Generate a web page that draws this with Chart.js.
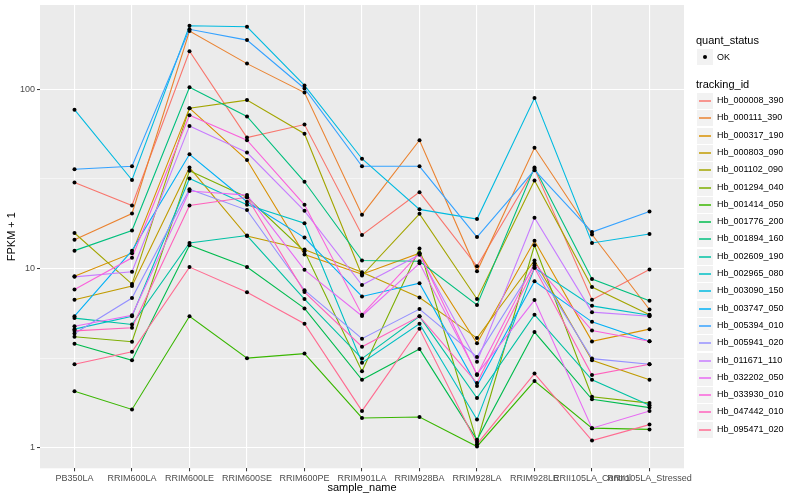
<!DOCTYPE html>
<html>
<head>
<meta charset="utf-8">
<script src="https://cdn.jsdelivr.net/npm/chart.js@4.4.1/dist/chart.umd.min.js"></script>
<style>
body { margin: 0; background: #fff; font-family: "Liberation Sans", Arial, sans-serif; }
#wrap { position: relative; width: 800px; height: 500px; }
#legend { position: absolute; left: 0; top: 0; width: 800px; height: 500px; pointer-events: none; }
.ttl { position: absolute; left: 696px; font-size: 11px; line-height: 13px; color: #000; }
.key { position: absolute; left: 697px; width: 16px; height: 16px; background: #F2F2F2; }
.lab { position: absolute; left: 717px; font-size: 9px; line-height: 11px; color: #000; white-space: nowrap; }
</style>
</head>
<body>
<div id="wrap">
  <canvas id="chart" width="800" height="500"></canvas>
  <div id="legend"></div>
</div>
<script>
// x categories
const categories = ['PB350LA', 'RRIM600LA', 'RRIM600LE', 'RRIM600SE', 'RRIM600PE', 'RRIM901LA',
    'RRIM928BA', 'RRIM928LA', 'RRIM928LE', 'RRII105LA_Control', 'RRII105LA_Stressed'];

const trackingIds = ['Hb_000008_390', 'Hb_000111_390', 'Hb_000317_190', 'Hb_000803_090', 'Hb_001102_090',
    'Hb_001294_040', 'Hb_001414_050', 'Hb_001776_200', 'Hb_001894_160', 'Hb_002609_190',
    'Hb_002965_080', 'Hb_003090_150', 'Hb_003747_050', 'Hb_005394_010', 'Hb_005941_020',
    'Hb_011671_110', 'Hb_032202_050', 'Hb_033930_010', 'Hb_047442_010', 'Hb_095471_020'];

// FPKM + 1 per sample
const hb000008 = [30.2, 22.5, 163, 53.8, 63.6, 15.4, 26.7, 10.3, 36.0, 6.7, 9.9];
const hb000111 = [14.5, 20.3, 211, 139, 95.8, 20.0, 52.0, 9.66, 47.2, 15.5, 5.92];
const hb000317 = [9.06, 12.2, 78.5, 40.3, 12.0, 9.3, 12.2, 3.84, 14.3, 3.93, 4.6];
const hb000803 = [6.7, 8.0, 36.6, 15.2, 12.8, 9.55, 6.9, 4.1, 11.1, 3.08, 2.4];
const hb001102 = [15.8, 8.2, 78.5, 87, 56.5, 9.15, 20.2, 6.77, 31.0, 7.9, 5.54];
const hb001294 = [4.17, 3.91, 35.1, 25.0, 12.5, 2.68, 12.93, 1.08, 13.5, 1.93, 1.78];
const hb001414 = [2.07, 1.64, 5.43, 3.17, 3.36, 1.47, 1.49, 1.02, 2.36, 1.29, 1.27];
const hb001776 = [3.81, 3.08, 13.5, 10.2, 6.0, 2.4, 3.56, 1.11, 4.43, 1.87, 1.68];
const hb001894 = [12.6, 16.3, 102.7, 70.5, 30.5, 11.1, 11.0, 6.27, 36.6, 8.76, 6.63];
const hb002609 = [5.3, 4.88, 13.9, 15.3, 6.77, 3.15, 5.42, 1.9, 5.54, 2.4, 1.73];
const hb002965 = [4.6, 5.43, 31.8, 22.7, 17.9, 2.99, 4.93, 1.44, 10.1, 6.2, 5.5];
const hb003090 = [77, 31.2, 226, 223, 105, 41, 21.4, 18.9, 89.3, 13.9, 15.6];
const hb003747 = [5.43, 12.6, 43.4, 23.6, 14.9, 7.0, 8.3, 2.22, 8.5, 5.05, 3.94];
const hb005394 = [35.8, 37.2, 216, 188, 101, 37.2, 37.2, 15.0, 35.4, 16.0, 20.8];
const hb005941 = [4.35, 6.86, 27.7, 21.2, 7.58, 4.07, 5.95, 3.22, 10.4, 3.15, 2.93];
const hb011671 = [9.0, 9.6, 62.5, 44.4, 21, 8.1, 11.95, 3.03, 19.2, 5.72, 5.43];
const hb032202 = [4.77, 5.5, 27.1, 25.7, 9.85, 5.45, 10.7, 2.58, 6.68, 1.29, 1.61];
const hb033930 = [7.65, 11.5, 71.7, 52, 22.7, 5.54, 12.2, 2.55, 10.7, 4.52, 3.94];
const hb047442 = [4.5, 4.68, 22.5, 25.0, 7.4, 3.67, 5.42, 2.3, 10.1, 2.55, 2.93];
const hb095471 = [2.93, 3.44, 10.2, 7.39, 4.93, 1.61, 4.62, 1.05, 2.6, 1.10, 1.35];

const seriesValues = [hb000008, hb000111, hb000317, hb000803, hb001102, hb001294, hb001414,
    hb001776, hb001894, hb002609, hb002965, hb003090, hb003747, hb005394, hb005941,
    hb011671, hb032202, hb033930, hb047442, hb095471];

const majorTicks = [1, 10, 100];
const minorTicks = [3.1623, 31.623];

// ggplot default hue palette, 20 levels
const hueColors = ['#F8766D', '#EA8331', '#D89000', '#C09B00', '#A3A500', '#7CAE00', '#39B600',
    '#00BB4E', '#00BF7D', '#00C1A3', '#00BFC4', '#00BAE0', '#00B0F6', '#35A2FF', '#9590FF',
    '#C77CFF', '#E76BF3', '#FA62DB', '#FF62BC', '#FF6C91'];

const isMajor = v => majorTicks.indexOf(v) !== -1;

const datasets = seriesValues.map((vals, i) => ({
    type: 'line',
    label: trackingIds[i],
    data: vals.map((v, j) => ({ x: j, y: v })),
    borderColor: hueColors[i],
    borderWidth: 1.1,
    pointRadius: 0,
    tension: 0,
    order: seriesValues.length - i
}));

// all points in black, drawn over the lines
const allPoints = [];
seriesValues.forEach(vals => vals.forEach((v, j) => allPoints.push({ x: j, y: v })));
datasets.push({
    type: 'scatter',
    label: 'OK',
    data: allPoints,
    pointRadius: 2,
    pointBackgroundColor: '#000',
    pointBorderWidth: 0,
    order: 0
});

const panelBg = {
    id: 'panelBg',
    beforeDraw(chart) {
        const { ctx, chartArea: a } = chart;
        ctx.save();
        ctx.fillStyle = '#EBEBEB';
        ctx.fillRect(a.left, a.top, a.right - a.left, a.bottom - a.top);
        ctx.restore();
    }
};

new Chart(document.getElementById('chart'), {
    data: { datasets: datasets },
    plugins: [panelBg],
    options: {
        responsive: false,
        animation: false,
        layout: { padding: { top: 5, right: 116, left: 0, bottom: 0 } },
        plugins: { legend: { display: false }, tooltip: { enabled: false } },
        scales: {
            x: {
                type: 'linear',
                min: -0.6,
                max: categories.length - 1 + 0.6,
                afterBuildTicks: scale => { scale.ticks = categories.map((c, i) => ({ value: i })); },
                afterFit: scale => { scale.height = 31.7; scale.paddingLeft = 0; scale.paddingRight = 0; },
                border: { display: false },
                grid: { color: '#FFFFFF', lineWidth: 1.1, tickColor: '#333333', tickLength: 3, tickWidth: 1 },
                ticks: {
                    autoSkip: false, maxRotation: 0, minRotation: 0, padding: 2,
                    color: '#4D4D4D', font: { family: 'Liberation Sans', size: 9 },
                    callback: v => categories[v]
                },
                title: {
                    display: true, text: 'sample_name', color: '#000',
                    font: { family: 'Liberation Sans', size: 11 }, padding: { top: 0, bottom: 5 }
                }
            },
            y: {
                type: 'logarithmic',
                min: 0.7706,
                max: 295,
                afterBuildTicks: scale => {
                    scale.ticks = majorTicks.concat(minorTicks).sort((a, b) => a - b).map(v => ({ value: v }));
                },
                afterFit: scale => { scale.width = 40; scale.paddingTop = 0; scale.paddingBottom = 0; },
                border: { display: false },
                grid: {
                    color: '#FFFFFF',
                    lineWidth: c => (c.tick && isMajor(c.tick.value)) ? 1.1 : 0.5,
                    tickColor: c => (c.tick && isMajor(c.tick.value)) ? '#333333' : 'rgba(0,0,0,0)',
                    tickLength: 3, tickWidth: 1
                },
                ticks: {
                    padding: 2, color: '#4D4D4D', font: { family: 'Liberation Sans', size: 9 },
                    callback: v => isMajor(v) ? String(v) : ''
                },
                title: {
                    display: true, text: 'FPKM + 1', color: '#000',
                    font: { family: 'Liberation Sans', size: 11 }, padding: { top: 5, bottom: 0 }
                }
            }
        }
    }
});

// ggplot-style legend on the right
const legend = document.getElementById('legend');
let html = '<div class="ttl" style="top:34px">quant_status</div>';
html += '<div class="key" style="top:49px"><div style="position:absolute;left:6px;top:6px;width:4px;height:4px;border-radius:2px;background:#000"></div></div>';
html += '<div class="lab" style="top:51.5px">OK</div>';
html += '<div class="ttl" style="top:77.5px">tracking_id</div>';
trackingIds.forEach((id, i) => {
    const cy = Math.round(101 + 17.3 * i);
    html += '<div class="key" style="top:' + (cy - 8) + 'px"><div style="position:absolute;left:2px;top:7px;width:12px;height:2px;opacity:0.75;background:' + hueColors[i] + '"></div></div>';
    html += '<div class="lab" style="top:' + (cy - 6) + 'px">' + id + '</div>';
});
legend.innerHTML = html;
</script>
</body>
</html>
